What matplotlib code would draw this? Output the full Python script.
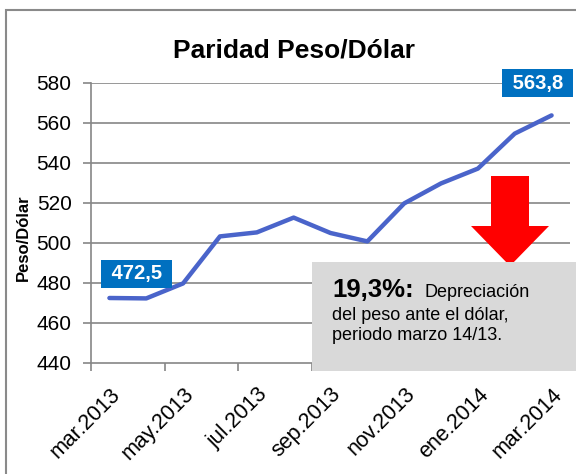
import matplotlib
matplotlib.use('Agg')
import matplotlib.pyplot as plt
from matplotlib.patches import Rectangle, Polygon

plt.rcParams['font.family'] = ['Liberation Sans', 'DejaVu Sans']

# ---- data ----
months = ['mar.2013', 'abr.2013', 'may.2013', 'jun.2013', 'jul.2013', 'ago.2013',
          'sep.2013', 'oct.2013', 'nov.2013', 'dic.2013', 'ene.2014', 'feb.2014',
          'mar.2014']
values = [472.5, 472.3, 479.8, 503.3, 505.3, 512.7, 505.0, 500.8, 519.8, 529.8,
          537.2, 554.7, 563.8]
yticks = [440, 460, 480, 500, 520, 540, 560, 580]
title = 'Paridad Peso/Dólar'
ylabel = 'Peso/Dólar'
note_bold = '19,3%:'
note_lines = ['Depreciación', 'del peso ante el dólar,', 'periodo marzo 14/13.']

W, H = 576, 474
fig = plt.figure(figsize=(W / 100, H / 100), dpi=100)
fig.patch.set_facecolor('white')

def fx(x):
    return x / W

def fy(y):
    return 1 - y / H

ax = fig.add_axes([fx(91), fy(363), fx(570) - fx(91), fy(83) - fy(363)])
gray = '#868686'
x = list(range(len(months)))
ax.plot(x, values, color='#4A64CA', lw=3.2, solid_capstyle='round',
        solid_joinstyle='round', zorder=3)
ax.set_xlim(-0.5, len(months) - 0.5)
ax.set_ylim(yticks[0], yticks[-1])
ax.set_yticks(yticks)
ax.set_yticklabels([str(t) for t in yticks])
for t in yticks[1:]:
    ax.axhline(t, color=gray, lw=1.2, zorder=1)

ax.set_xticks(x[::2])
ax.set_xticklabels(months[::2], rotation=45, ha='right', rotation_mode='anchor')
ax.set_xticks([i - 0.5 for i in x[::2]], minor=True)
ax.tick_params(axis='x', which='major', length=0, pad=15, labelsize=15.5)
ax.tick_params(axis='x', which='minor', length=6, width=1.2, color=gray, direction='out')
ax.tick_params(axis='y', length=6, width=1.2, color=gray, direction='out', pad=8,
               labelsize=15)
for s in ['top', 'right']:
    ax.spines[s].set_visible(False)
for s in ['left', 'bottom']:
    ax.spines[s].set_color(gray)
    ax.spines[s].set_linewidth(1.2)

# data labels
def fmt(v):
    return (' %.1f ' % v).replace('.', ',')

ax.annotate(fmt(values[0]), xy=(0, values[0]), xytext=(27, 24), textcoords='offset pixels',
            ha='center', va='center', color='white', fontsize=14.5, fontweight='bold',
            bbox=dict(boxstyle='square,pad=0.22', fc='#0070C0', ec='none'), zorder=5)
ax.annotate(fmt(values[-1]), xy=(12, values[-1]), xytext=(-14, 32), textcoords='offset pixels',
            ha='center', va='center', color='white', fontsize=14.5, fontweight='bold',
            bbox=dict(boxstyle='square,pad=0.22', fc='#0070C0', ec='none'), zorder=5,
            annotation_clip=False)

# title and y label
fig.text(fx(294), fy(50), title, ha='center', va='center', fontsize=19, fontweight='bold')
fig.text(fx(23), fy(238), ylabel, ha='center', va='center', rotation=90, fontsize=12,
         fontweight='bold')

# outer border
fig.add_artist(Rectangle((fx(6), fy(490)), fx(600) - fx(6), fy(10) - fy(490),
                         transform=fig.transFigure, fill=False, ec='#8a8a8a', lw=1.5))

# red arrow
arrow_px = [(491, 176), (529, 176), (529, 226), (549, 226), (510, 266), (471, 226), (491, 226)]
fig.add_artist(Polygon([(fx(a), fy(b)) for a, b in arrow_px], closed=True,
                       transform=fig.transFigure, fc='#FF0000', ec='none', zorder=9))

# gray note box
fig.add_artist(Rectangle((fx(312), fy(371)), fx(590) - fx(312), fy(262) - fy(371),
                         transform=fig.transFigure, fc='#D9D9D9', ec='none', zorder=10))
fig.text(fx(332), fy(297), note_bold, ha='left', va='baseline', fontsize=18.5,
         fontweight='bold', zorder=11)
fig.text(fx(424), fy(297), note_lines[0], ha='left', va='baseline', fontsize=13, zorder=11)
fig.text(fx(332), fy(320), note_lines[1], ha='left', va='baseline', fontsize=13, zorder=11)
fig.text(fx(332), fy(340), note_lines[2], ha='left', va='baseline', fontsize=13, zorder=11)

fig.savefig('out.png', dpi=100)
